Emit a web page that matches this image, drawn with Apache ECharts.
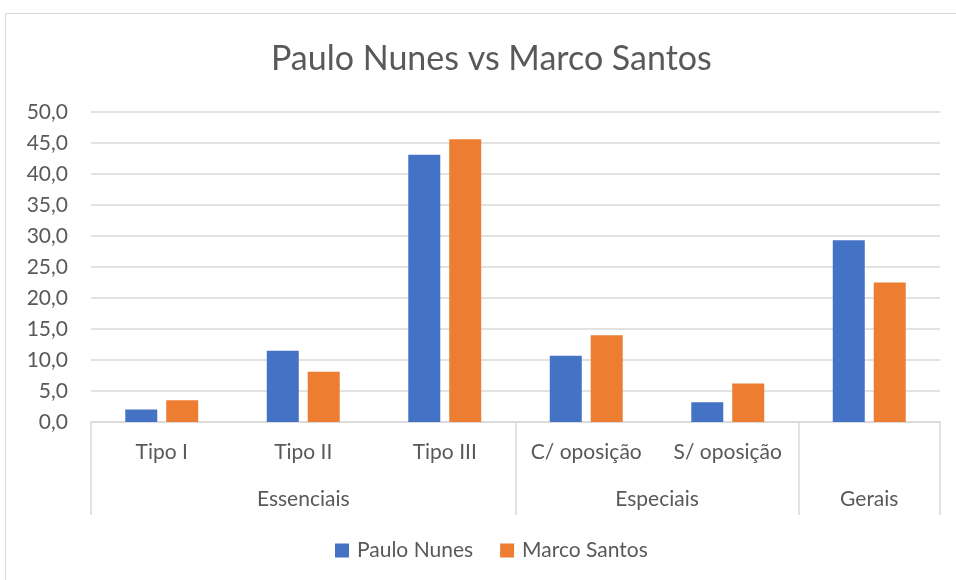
<!DOCTYPE html>
<html>
<head>
<meta charset="utf-8">
<script src="https://cdn.jsdelivr.net/npm/echarts@6/dist/echarts.min.js"></script>
<style>
    html, body { margin: 0; padding: 0; background: #fff; }
    #frame {
        position: absolute; left: 5px; top: 13px;
        width: 1000px; height: 600px;
        border: 1px solid #d9d9d9;
    }
    #chart { position: absolute; left: 0; top: 0; width: 956px; height: 580px; }
</style>
</head>
<body>
<div id="frame"></div>
<div id="chart"></div>
<script>
// dados do gráfico
const categorias = ['Tipo I', 'Tipo II', 'Tipo III', 'C/ oposição', 'S/ oposição', ''];
const paulo = [2.0, 11.5, 43.1, 10.7, 3.2, 29.3];
const marco = [3.5, 8.1, 45.6, 14.0, 6.2, 22.5];
// grupos: nome e quantas categorias cada um ocupa
const grupos = ['Essenciais', 'Especiais', 'Gerais'];
const gruposTamanho = [3, 2, 1];
const yTicks = [0, 5, 10, 15, 20, 25, 30, 35, 40, 45, 50];

// eixo auxiliar com 13 pontos (meias categorias) para os grupos
const meias = [];
for (let i = 0; i <= categorias.length * 2; i++) meias.push('');
const separadores = [0];
let acc = 0;
grupos.forEach((g, i) => {
    const centro = acc * 2 + gruposTamanho[i];
    meias[centro] = g;
    acc += gruposTamanho[i];
    separadores.push(acc * 2);
});

const fonte = 'Lato';
const cinza = '#595959';

let mychart = echarts.init(document.getElementById('chart'));
let option = {
    textStyle: { fontFamily: fonte },
    title: {
        text: 'Paulo Nunes vs Marco Santos',
        left: 266,
        top: 37,
        textStyle: { fontFamily: fonte, fontSize: 34, fontWeight: 'normal', color: cinza }
    },
    legend: {
        bottom: 14,
        left: 330,
        itemWidth: 14,
        itemHeight: 14,
        itemGap: 27,
        icon: 'rect',
        textStyle: { fontFamily: fonte, fontSize: 21, color: cinza, padding: [0, 0, 0, 3] }
    },
    grid: { left: 91, right: 16, top: 112, bottom: 158, containLabel: false },
    xAxis: [
        {
            type: 'category',
            data: categorias,
            axisLine: { show: true, lineStyle: { color: '#d9d9d9', width: 1.5 } },
            axisTick: { show: false },
            axisLabel: { interval: 0, fontFamily: fonte, fontSize: 21, color: cinza, margin: 20 }
        },
        {
            type: 'category',
            data: meias,
            position: 'bottom',
            boundaryGap: false,
            axisLine: { show: false },
            axisTick: {
                show: true,
                length: 93,
                interval: (idx) => separadores.indexOf(idx) >= 0,
                lineStyle: { color: '#d9d9d9', width: 1.5 }
            },
            axisLabel: { interval: 0, fontFamily: fonte, fontSize: 21, color: cinza, margin: 67 }
        }
    ],
    yAxis: {
        type: 'value',
        min: yTicks[0],
        max: yTicks[yTicks.length - 1],
        interval: 5,
        axisLine: { show: false },
        axisTick: { show: false },
        splitLine: { lineStyle: { color: '#d9d9d9', width: 1.5 } },
        axisLabel: {
            fontFamily: fonte, fontSize: 21, color: cinza, margin: 23,
            formatter: (v) => v.toFixed(1).replace('.', ',')
        }
    },
    series: [
        {
            name: 'Paulo Nunes',
            type: 'bar',
            data: paulo,
            barWidth: 32,
            barGap: '28%',
            itemStyle: { color: '#4472c4' }
        },
        {
            name: 'Marco Santos',
            type: 'bar',
            data: marco,
            barWidth: 32,
            barGap: '28%',
            itemStyle: { color: '#ed7d31' }
        }
    ]
};
mychart.setOption(option);
window.addEventListener('resize', () => {
    mychart.resize();
});
</script>
</body>
</html>
